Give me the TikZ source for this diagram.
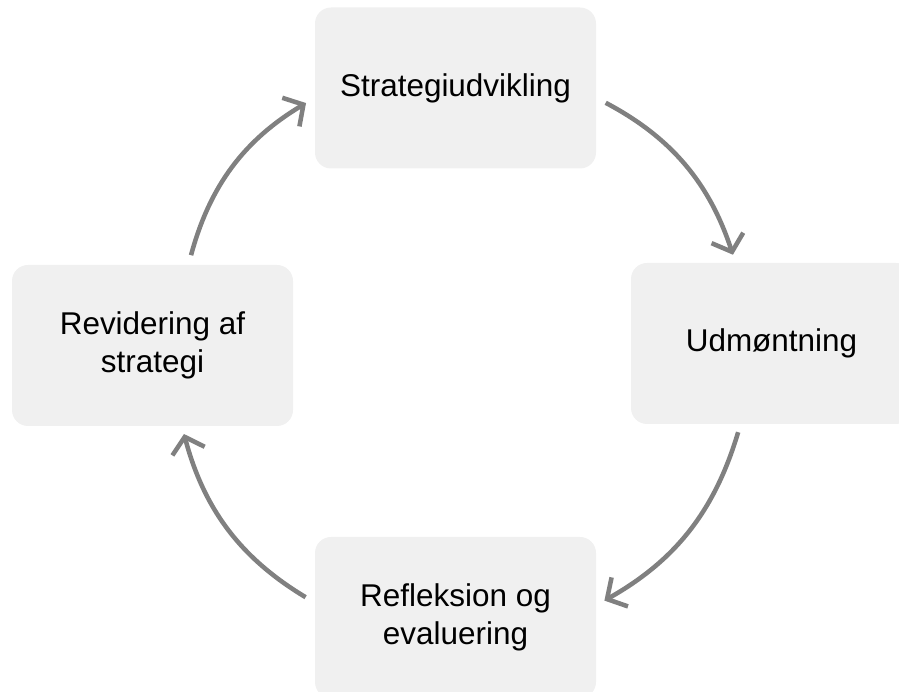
\documentclass[tikz,border=0pt]{standalone}
\usepackage{fontspec}
\setmainfont{Liberation Sans}
\usetikzlibrary{arrows.meta}
\definecolor{boxgray}{HTML}{F0F0F0}
\definecolor{arrowgray}{HTML}{808080}

\begin{document}
\begin{tikzpicture}[x = 0.75pt, y = 0.75pt,
stage/.style = {fill = boxgray, shape = rectangle, rounded corners = 12pt, minimum width = 210.75pt, minimum height = 120.75pt, align = center, font = \fontsize{23.6}{28.5}\selectfont},
cycle/.style = {draw = arrowgray, line width = 3.4pt, -{Straight Barb[length = 11pt, width = 25pt]}}]
\useasboundingbox (0,0) rectangle (899,692);
\clip (0,0) rectangle (899,692);
\node[stage] (strat) at (455.5,604) {Strategiudvikling};
\node[stage] (udm) at (771.5,348.5) {Udmøntning};
\node[stage] (refl) at (455.5,74.5) {Refleksion og\\evaluering};
\node[stage] (revi) at (152.5,346.5) {Revidering af\\strategi};
\begin{scope}[every path/.style = {cycle}]
\draw[shorten <= 7.4, shorten >= 7.6] (revi.66)  to[bend left = 22] (strat.184);
\draw[shorten <= 8,   shorten >= 6.3] (strat.-4) to[bend left = 22] (udm.114);
\draw[shorten <= 6.2, shorten >= 7]   (udm.249)  to[bend left = 22] (refl.5);
\draw[shorten <= 8,   shorten >= 6]   (refl.174) to[bend left = 22] (revi.-70);
\end{scope}
\end{tikzpicture}
\end{document}
